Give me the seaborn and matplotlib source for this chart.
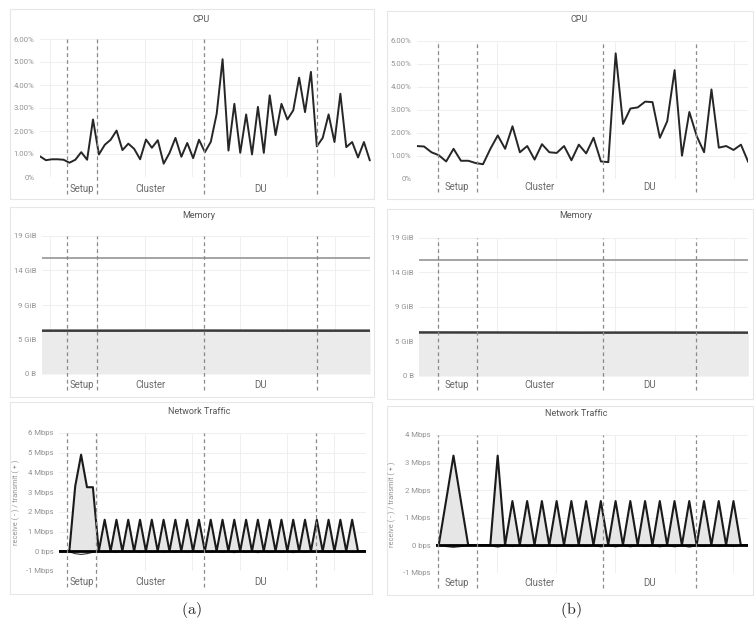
import numpy as np
import matplotlib
matplotlib.use("Agg")
import matplotlib.pyplot as plt
import seaborn as sns
from matplotlib.patches import Rectangle

# --- Data (one sample = 15 s) ---
cpu_a = [0.90, 0.73, 0.77, 0.77, 0.75, 0.62, 0.75, 1.08, 0.75, 2.50,
         0.98, 1.40, 1.62, 2.02, 1.17, 1.45, 1.22, 0.77, 1.63, 1.27,
         1.60, 0.58, 1.05, 1.70, 0.88, 1.48, 0.82, 1.62, 1.08, 1.53,
         2.75, 5.12, 1.15, 3.18, 1.05, 2.72, 0.98, 3.05, 1.05, 3.55,
         1.82, 3.18, 2.50, 2.90, 4.32, 2.82, 4.57, 1.33, 1.70, 2.72,
         1.52, 3.62, 1.30, 1.52, 0.85, 1.52, 0.72]
cpu_b = [1.42, 1.40, 1.15, 1.02, 0.75, 1.30, 0.78, 0.78, 0.68, 0.63,
         1.30, 1.88, 1.30, 2.28, 1.15, 1.42, 0.83, 1.50, 1.15, 1.12,
         1.42, 0.80, 1.48, 1.10, 1.78, 0.75, 0.72, 5.45, 2.38, 3.05,
         3.10, 3.35, 3.33, 1.78, 2.50, 4.72, 1.00, 2.90, 1.85, 1.15,
         3.88, 1.35, 1.42, 1.25, 1.48, 0.72]

# memory in GB (10^9 bytes), sampled at a few points along the run
mem_x_a = [0, 14, 28, 42, 56]
mem_total_a = [16.75, 16.75, 16.75, 16.75, 16.75]
mem_used_a = [6.28, 6.28, 6.29, 6.28, 6.28]
mem_x_b = [0, 11, 22, 33, 45]
mem_total_b = [16.72, 16.72, 16.72, 16.72, 16.72]
mem_used_b = [6.30, 6.29, 6.27, 6.28, 6.27]
mem_ticks = [0, 5, 10, 15, 20]
mem_ticklabels = ["0 B", "5 GiB", "9 GiB", "14 GiB", "19 GiB"]

# network in Mbps
tx_a = [0, 0, 0, 0, 0, 0, 3.30, 4.90, 3.25, 3.25,
        0, 1.6, 0, 1.6, 0, 1.6, 0, 1.6, 0, 1.6,
        0, 1.6, 0, 1.6, 0, 1.6, 0, 1.6, 0, 1.6,
        0, 1.6, 0, 1.6, 0, 1.6, 0, 1.6, 0, 1.6,
        0, 1.6, 0, 1.6, 0, 1.6, 0, 1.6, 0, 1.6,
        0, 1.6, 0, 1.6, 0, 0, 0]
rx_a = [-0.01, -0.01, -0.01, -0.01, -0.01, -0.03, -0.12, -0.16, -0.12, -0.05,
        -0.02, -0.05, -0.02, -0.05, -0.02, -0.05, -0.02, -0.05, -0.02, -0.05,
        -0.02, -0.05, -0.02, -0.05, -0.02, -0.05, -0.02, -0.05, -0.02, -0.05,
        -0.02, -0.06, -0.02, -0.07, -0.02, -0.06, -0.02, -0.07, -0.02, -0.06,
        -0.02, -0.06, -0.02, -0.07, -0.02, -0.06, -0.02, -0.05, -0.02, -0.06,
        -0.02, -0.05, -0.02, -0.05, -0.02, -0.01, -0.01]
tx_b = [0, 0, 0, 0, 1.62, 3.25, 1.62, 0, 0, 0,
        0, 3.25, 0, 1.6, 0, 1.6, 0, 1.6, 0, 1.6,
        0, 1.6, 0, 1.6, 0, 1.6, 0, 1.6, 0, 1.6,
        0, 1.6, 0, 1.6, 0, 1.6, 0, 1.6, 0, 1.6,
        0, 1.6, 0, 1.6, 0, 0]
rx_b = [-0.01, -0.01, -0.01, -0.01, -0.05, -0.08, -0.05, -0.01, -0.01, -0.01,
        -0.02, -0.07, -0.02, -0.05, -0.02, -0.05, -0.02, -0.05, -0.02, -0.05,
        -0.02, -0.05, -0.02, -0.05, -0.02, -0.06, -0.02, -0.06, -0.02, -0.06,
        -0.02, -0.05, -0.02, -0.06, -0.02, -0.06, -0.02, -0.07, -0.02, -0.05,
        -0.02, -0.05, -0.02, -0.05, -0.01, -0.01]

phase_names = ["Setup", "Cluster", "DU"]
phases_a = [4.65, 9.6, 27.9, 46.95]
phases_b = [2.85, 8.15, 25.3, 37.9]
vgrid_a = [1.7, 9.75, 17.8, 25.85, 33.9, 41.95, 50.0]
vgrid_b = [2.85, 10.85, 18.9, 26.95, 35.0, 43.0]

# --- Layout in pixels of the 755x628 reference ---
W, H = 755, 628
LINE = "#262626"
GRID = "#efefef"
TICK = "#939393"

sns.set_theme(style="white")
plt.rcParams["font.family"] = ["Roboto", "DejaVu Sans"]
plt.rcParams["mathtext.fontset"] = "cm"

fig = plt.figure(figsize=(W / 100, H / 100), dpi=100)


def px_rect(x0, y0, x1, y1):
    return [x0 / W, 1 - y1 / H, (x1 - x0) / W, (y1 - y0) / H]


def card(box, title, title_xy):
    x0, y0, x1, y1 = box
    fig.patches.append(Rectangle((x0 / W, 1 - y1 / H), (x1 - x0) / W, (y1 - y0) / H,
                                 transform=fig.transFigure, facecolor="white",
                                 edgecolor="#e6e6e6", lw=0.8, zorder=-5))
    fig.text(title_xy[0] / W, 1 - title_xy[1] / H, title, ha="center", va="center",
             fontsize=6.5, color="#555555")


def make_axes(box, xlim, ylim, yticks, yticklabels, vgrid, phases, label_y):
    x0, y0, x1, y1 = box
    ax = fig.add_axes(px_rect(x0, y0, x1, y1))
    ax.set_facecolor("none")
    ax.set_xlim(*xlim)
    ax.set_ylim(*ylim)
    for s in ax.spines.values():
        s.set_visible(False)
    ax.set_xticks([])
    ax.set_yticks(yticks)
    ax.set_yticklabels(yticklabels)
    ax.tick_params(axis="y", length=0, pad=4, labelsize=5.6, labelcolor=TICK)
    for yv in yticks:
        ax.axhline(yv, color=GRID, lw=0.7, zorder=0)
    for xv in vgrid:
        if xlim[0] <= xv <= xlim[1]:
            ax.axvline(xv, color=GRID, lw=0.7, zorder=0)
    # phase markers, running down into the label row
    ext = (label_y + 5 - y1) / (y1 - y0)
    for xv in phases:
        ax.axvline(xv, ymin=-ext, ymax=1, color="#8a8a8a", lw=0.9,
                   dashes=(3, 2.5), clip_on=False, zorder=4)
    ly = -(label_y - y1) / (y1 - y0)
    for name, a, b in zip(phase_names, phases[:-1], phases[1:]):
        ax.text((a + b) / 2, ly, name, transform=ax.get_xaxis_transform(),
                ha="center", va="center", fontsize=6.9, color="#6a6a6a")
    return ax


def cpu_panel(col):
    cpu = cpu_a if col == "a" else cpu_b
    if col == "a":
        card((10, 9, 374, 199), "CPU", (201, 19))
        ax = make_axes((40, 39, 371, 177), (0, 56.2), (0, 6), range(7),
                       ["0%"] + [f"{v:.2f}%" for v in range(1, 7)], vgrid_a, phases_a, 189)
    else:
        card((386.7, 10.7, 753, 199), "CPU", (579, 20))
        ax = make_axes((416.7, 40.7, 748.3, 178.7), (0, 45), (0, 6), range(7),
                       ["0%"] + [f"{v:.2f}%" for v in range(1, 7)], vgrid_b, phases_b, 187)
    sns.lineplot(x=np.arange(len(cpu)), y=cpu, ax=ax, color=LINE, linewidth=1.4)


def mem_panel(col):
    if col == "a":
        card((10, 207, 374, 397), "Memory", (199, 215))
        ax = make_axes((41.7, 236, 370, 374), (0.29, 56), (0, 20), mem_ticks,
                       mem_ticklabels, vgrid_a, phases_a, 385)
        mx, tot, used = mem_x_a, mem_total_a, mem_used_a
    else:
        card((386.7, 209, 752.7, 399), "Memory", (576, 216))
        ax = make_axes((419.3, 237.7, 748.3, 376), (0.35, 45), (0, 20), mem_ticks,
                       mem_ticklabels, vgrid_b, phases_b, 385)
        mx, tot, used = mem_x_b, mem_total_b, mem_used_b
    ax.fill_between(mx, 0, used, color="#ebebeb", lw=0, zorder=1)
    sns.lineplot(x=mx, y=tot, ax=ax, color="#9d9d9d", linewidth=1.3)
    sns.lineplot(x=mx, y=used, ax=ax, color="#3a3a3a", linewidth=1.8)


def net_panel(col):
    if col == "a":
        card((10, 402, 372, 594), "Network Traffic", (199, 412))
        top = 6
        ax = make_axes((59.3, 433, 365.7, 571), (3.3, 55.3), (-1, top), range(-1, top + 1),
                       ["-1 Mbps", "0 bps"] + [f"{v} Mbps" for v in range(1, top + 1)],
                       vgrid_a, phases_a, 582.3)
        tx, rx = tx_a, rx_a
    else:
        card((386.7, 405.7, 752.7, 595), "Network Traffic", (576, 414))
        top = 4
        ax = make_axes((436, 435, 747.7, 572.7), (2.63, 44.93), (-1, top), range(-1, top + 1),
                       ["-1 Mbps", "0 bps"] + [f"{v} Mbps" for v in range(1, top + 1)],
                       vgrid_b, phases_b, 582.7)
        tx, rx = tx_b, rx_b
    xs = np.arange(len(tx))
    ax.fill_between(xs, 0, tx, color="#e6e6e6", lw=0, zorder=1)
    sns.lineplot(x=xs, y=rx, ax=ax, color="#333333", linewidth=0.8)
    sns.lineplot(x=xs, y=tx, ax=ax, color="#1a1a1a", linewidth=1.5)
    ax.axhline(0, color="black", lw=2.0, zorder=3)
    ax.set_ylabel("receive ( - ) / transmit ( + )", fontsize=5.3, color=TICK)
    left_px = 20.5 if col == "a" else 396
    x0 = 59.3 if col == "a" else 436
    x1 = 365.7 if col == "a" else 747.7
    ax.yaxis.set_label_coords((left_px - x0) / (x1 - x0), 0.5)


for c in ("a", "b"):
    cpu_panel(c)
    mem_panel(c)
    net_panel(c)

fig.text(191 / W, 1 - 610 / H, r"$\mathrm{(a)}$", ha="center", va="center", fontsize=11.5)
fig.text(571 / W, 1 - 610 / H, r"$\mathrm{(b)}$", ha="center", va="center", fontsize=11.5)

fig.savefig("out.png", dpi=100, facecolor="white")
